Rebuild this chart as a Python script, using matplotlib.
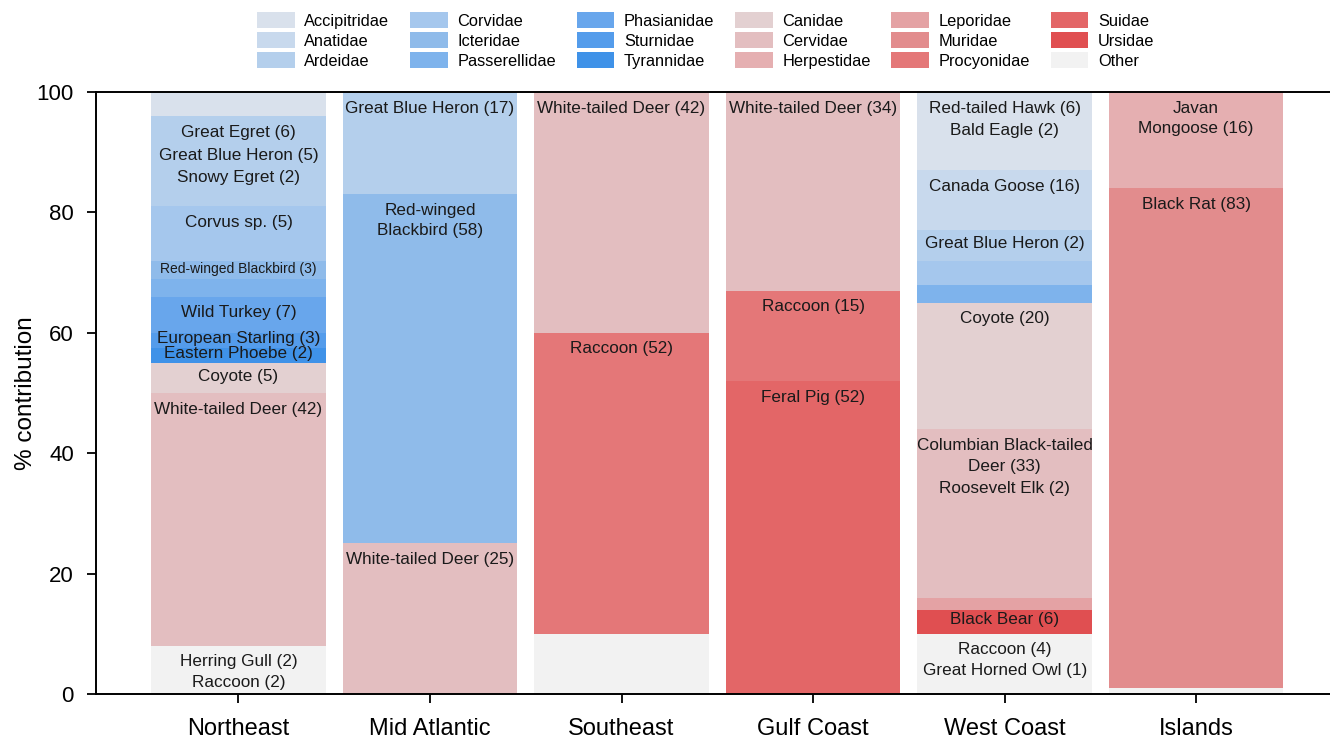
import matplotlib
matplotlib.use("Agg")
import matplotlib.pyplot as plt
import numpy as np

plt.rcParams['font.family'] = ['Liberation Sans', 'DejaVu Sans']

regions = ['Northeast', 'Mid Atlantic', 'Southeast', 'Gulf Coast', 'West Coast', 'Islands']

families = ['Accipitridae', 'Anatidae', 'Ardeidae',
            'Corvidae', 'Icteridae', 'Passerellidae',
            'Phasianidae', 'Sturnidae', 'Tyrannidae',
            'Canidae', 'Cervidae', 'Herpestidae',
            'Leporidae', 'Muridae', 'Procyonidae',
            'Suidae', 'Ursidae', 'Other']

family_colors = ['#d9e1ec', '#c8d9ed', '#b4cfec',
                 '#a5c7ed', '#8fbbea', '#7eb3ec',
                 '#68a6ec', '#549ceb', '#3f92e8',
                 '#e3d0d1', '#e3bec0', '#e5afb1',
                 '#e4a2a4', '#e28c8d', '#e47778',
                 '#e36667', '#e04f51', '#f2f2f2']

# % contribution of each family per region (same order as families)
northeast    = [4, 0, 15, 9, 3, 3, 6, 2.5, 2.5, 5, 42, 0, 0, 0, 0, 0, 0, 8]
mid_atlantic = [0, 0, 17, 0, 58, 0, 0, 0, 0, 0, 25, 0, 0, 0, 0, 0, 0, 0]
southeast    = [0, 0, 0, 0, 0, 0, 0, 0, 0, 0, 40, 0, 0, 0, 50, 0, 0, 10]
gulf_coast   = [0, 0, 0, 0, 0, 0, 0, 0, 0, 0, 33, 0, 0, 0, 15, 52, 0, 0]
west_coast   = [13, 10, 5, 4, 0, 3, 0, 0, 0, 21, 28, 0, 2, 0, 0, 0, 4, 10]
islands      = [0, 0, 0, 0, 0, 0, 0, 0, 0, 0, 0, 16, 0, 83, 0, 0, 0, 1]

shares = [northeast, mid_atlantic, southeast, gulf_coast, west_coast, islands]

# species (sample counts) written inside each family segment
labels = [
    {'Ardeidae': 'Great Egret (6)\nGreat Blue Heron (5)\nSnowy Egret (2)',
     'Corvidae': 'Corvus sp. (5)',
     'Icteridae': 'Red-winged Blackbird (3)',
     'Phasianidae': 'Wild Turkey (7)',
     'Sturnidae': 'European Starling (3)',
     'Tyrannidae': 'Eastern Phoebe (2)',
     'Canidae': 'Coyote (5)',
     'Cervidae': 'White-tailed Deer (42)',
     'Other': 'Herring Gull (2)\nRaccoon (2)'},
    {'Ardeidae': 'Great Blue Heron (17)',
     'Icteridae': 'Red-winged\nBlackbird (58)',
     'Cervidae': 'White-tailed Deer (25)'},
    {'Cervidae': 'White-tailed Deer (42)',
     'Procyonidae': 'Raccoon (52)'},
    {'Cervidae': 'White-tailed Deer (34)',
     'Procyonidae': 'Raccoon (15)',
     'Suidae': 'Feral Pig (52)'},
    {'Accipitridae': 'Red-tailed Hawk (6)\nBald Eagle (2)',
     'Anatidae': 'Canada Goose (16)',
     'Ardeidae': 'Great Blue Heron (2)',
     'Canidae': 'Coyote (20)',
     'Cervidae': 'Columbian Black-tailed\nDeer (33)\nRoosevelt Elk (2)',
     'Ursidae': 'Black Bear (6)',
     'Other': 'Raccoon (4)\nGreat Horned Owl (1)'},
    {'Herpestidae': 'Javan\nMongoose (16)',
     'Muridae': 'Black Rat (83)'},
]

# a few labels get a smaller font or looser line spacing
label_size = {'Red-winged Blackbird (3)': 10}
label_spacing = {'Great Egret (6)\nGreat Blue Heron (5)\nSnowy Egret (2)': 1.65,
                 'Red-tailed Hawk (6)\nBald Eagle (2)': 1.65,
                 'Columbian Black-tailed\nDeer (33)\nRoosevelt Elk (2)': 1.55}

fig = plt.figure(figsize=(13.3, 7.39), dpi=100)
ax = fig.add_axes([0.0722, 0.061, 0.928, 0.8145])

x = np.arange(len(regions))
bar_w = 0.91

# stack from the bottom: Other first, Accipitridae on top
bottoms = np.zeros(len(regions))
handles = {}
for fi in range(len(families) - 1, -1, -1):
    vals = np.array([s[fi] for s in shares], dtype=float)
    bars = ax.bar(x, vals, bar_w, bottom=bottoms, color=family_colors[fi],
                  edgecolor='none', label=families[fi])
    handles[families[fi]] = bars
    for ri in range(len(regions)):
        txt = labels[ri].get(families[fi])
        if txt and vals[ri] > 0:
            top = bottoms[ri] + vals[ri]
            y0 = top - min(3, vals[ri] / 2)
            fs = label_size.get(txt, 12.3)
            ax.annotate(txt, xy=(x[ri], y0), xytext=(0, fs * 0.55),
                        textcoords='offset points', ha='center', va='top',
                        fontsize=fs, color='#1a1a1a',
                        linespacing=label_spacing.get(txt, 1.44))
    bottoms += vals

ax.set_xlim(-0.7435, 5.70)
ax.set_ylim(0, 100)
ax.set_xticks(x)
ax.set_xticklabels(regions, fontsize=17)
ax.set_yticks(np.arange(0, 101, 20))
ax.tick_params(axis='y', labelsize=16, length=6.5, width=1.3, pad=9.5)
ax.tick_params(axis='x', length=6.5, width=1.3, pad=11)
ax.set_ylabel('% contribution', fontsize=17.5, labelpad=0)
ax.spines['right'].set_visible(False)
for side in ['left', 'bottom', 'top']:
    ax.spines[side].set_linewidth(1.4)

ax.legend([handles[f] for f in families], families, ncol=6,
          loc='lower center', bbox_to_anchor=(0.494, 1.022), frameon=False,
          fontsize=11.8, handlelength=2.3, handleheight=1.1,
          labelspacing=0.22, handletextpad=0.6, columnspacing=1.25,
          borderaxespad=0.2)

fig.savefig('out.png', dpi=100)
